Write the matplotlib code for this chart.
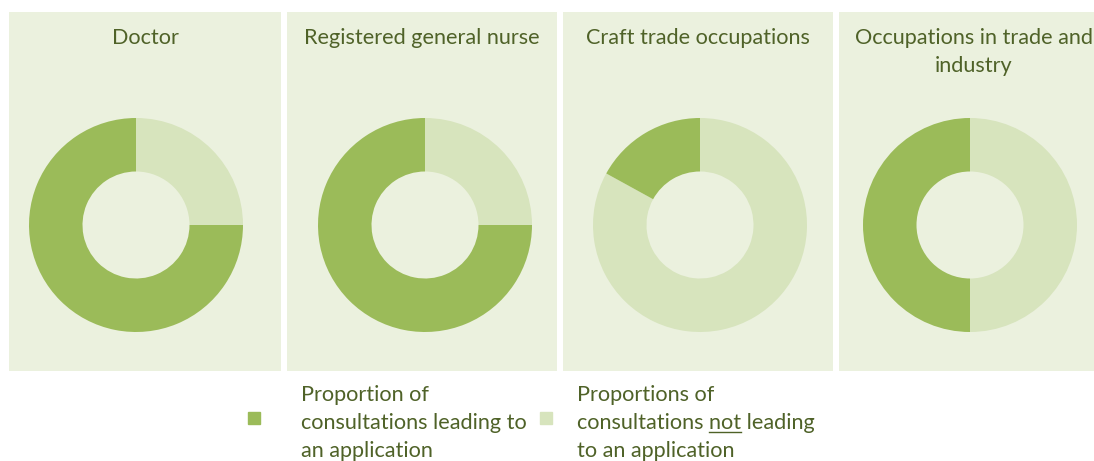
import matplotlib
matplotlib.use("Agg")
import matplotlib.pyplot as plt
from matplotlib.patches import Rectangle
from matplotlib.lines import Line2D

plt.rcParams['font.family'] = ['Lato', 'DejaVu Sans']

# data
categories = ["Doctor", "Registered general nurse", "Craft trade occupations",
              "Occupations in trade and\nindustry"]
leading = [75, 75, 17, 50]
not_leading = [25, 25, 83, 50]
legend_labels = ["Proportion of\nconsultations leading to\nan application",
                 "Proportions of\nconsultations not leading\nto an application"]

dark = '#9BBB59'
light = '#D7E4BD'
panel_bg = '#EBF1DE'
txt = '#4F6228'
fs = 15.6

W, H = 1094, 461
fig = plt.figure(figsize=(W / 100, H / 100), dpi=100)
fig.patch.set_facecolor('white')

# panel boxes (pixels): left, right
panels = [(9, 281), (287, 557), (563, 833), (839, 1110)]
donut_cx = [136, 425, 700, 970]
top, bottom = 12, 371
cy, r = 225, 107

for i, name in enumerate(categories):
    pl, pr = panels[i]
    pax = fig.add_axes([pl / W, 1 - bottom / H, (pr - pl) / W, (bottom - top) / H])
    pax.set_facecolor(panel_bg)
    pax.set_xticks([])
    pax.set_yticks([])
    for s in pax.spines.values():
        s.set_visible(False)

    x_mid = (pl + min(pr, 1110)) / 2
    if i == 3:
        x_mid = 974
    fig.text(x_mid / W, 1 - 44 / H, name.split('\n')[0], ha='center', va='baseline',
             fontsize=fs, color=txt)
    if '\n' in name:
        fig.text(x_mid / W, 1 - 72 / H, name.split('\n')[1], ha='center',
                 va='baseline', fontsize=fs, color=txt)

    ax = fig.add_axes([(donut_cx[i] - r) / W, 1 - (cy + r) / H, 2 * r / W, 2 * r / H])
    ax.set_facecolor('none')
    ax.pie([not_leading[i], leading[i]], colors=[light, dark], startangle=90,
           counterclock=False, radius=1, wedgeprops=dict(width=0.5, linewidth=0))
    ax.set_xlim(-1, 1)
    ax.set_ylim(-1, 1)
    ax.set_aspect('equal')
    ax.axis('off')

# legend, drawn by hand so "not" can be underlined
fig.add_artist(Rectangle((248 / W, 1 - 424 / H), 12 / W, 12 / H, color=dark,
                         transform=fig.transFigure))
fig.add_artist(Rectangle((540 / W, 1 - 424 / H), 12 / W, 12 / H, color=light,
                         transform=fig.transFigure))

line_y = [401, 429, 457]
for x0, label in zip([301, 577], legend_labels):
    for k, line in enumerate(label.split('\n')):
        fig.text(x0 / W, 1 - line_y[k] / H, line, ha='left', va='baseline',
                 fontsize=fs, color=txt)

renderer = fig.canvas.get_renderer()
probe = fig.text(577 / W, 1 - line_y[1] / H, "consultations not", fontsize=fs,
                 va='baseline', alpha=0)
probe2 = fig.text(577 / W, 1 - line_y[1] / H, "not", fontsize=fs,
                  va='baseline', alpha=0)
b1 = probe.get_window_extent(renderer)
b2 = probe2.get_window_extent(renderer)
x_end = b1.x1
x_start = x_end - b2.width
uy = 1 - (line_y[1] + 3) / H
fig.add_artist(Line2D([x_start / W, x_end / W], [uy, uy], color=txt, linewidth=1,
                      transform=fig.transFigure))

fig.savefig('out.png', dpi=100)
